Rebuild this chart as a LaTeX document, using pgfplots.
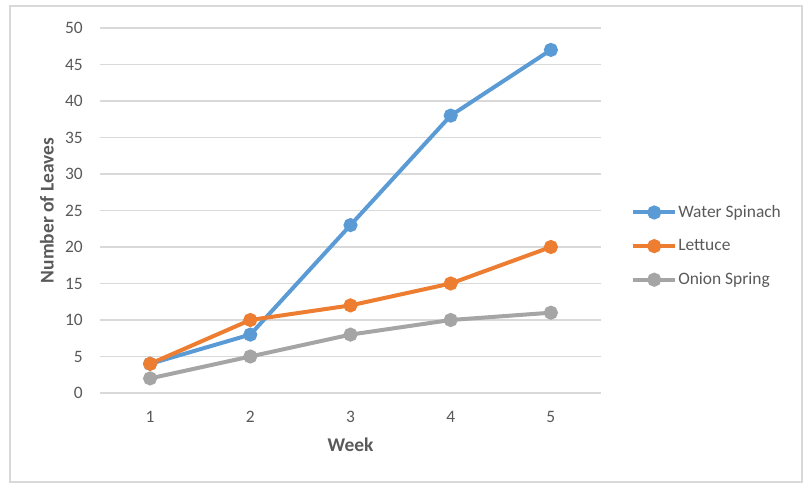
\documentclass[border=0pt]{standalone}
\usepackage{fontspec}
\setmainfont{Carlito}
\usepackage{pgfplots}
\pgfplotsset{compat=1.18}
\definecolor{cblue}{HTML}{5B9BD5}
\definecolor{corange}{HTML}{ED7D31}
\definecolor{cgray}{HTML}{A5A5A5}
\definecolor{ctext}{HTML}{595959}
\definecolor{cgrid}{HTML}{D9D9D9}
\begin{document}
\begin{tikzpicture}
\useasboundingbox (-100bp,-97bp) rectangle (709bp,393bp);
\draw[cgrid, line width=1.2bp] (-90bp,-89bp) rectangle (702bp,387bp);
\begin{axis}[
  scale only axis,
  width=501bp, height=365bp,
  xmin=0.5, xmax=5.5, ymin=0, ymax=50,
  xtick={1,2,3,4,5}, ytick={0,5,...,50},
  axis line style={draw=none},
  major tick length=0pt,
  ymajorgrids, grid style={cgrid, line width=1.2bp},
  ticklabel style={font=\fontsize{17.5}{21}\selectfont, text=ctext, inner sep=0pt},
  /pgf/number format/assume math mode=true,
  yticklabel style={anchor=east, xshift=-17bp},
  xticklabel style={anchor=north, yshift=-18bp},
  xlabel={Week}, ylabel={Number of Leaves},
  every axis x label/.style={at={(axis description cs:0.5,-0.1425)}, anchor=center,
    font=\fontsize{19.5}{23}\selectfont\bfseries, text=ctext},
  every axis y label/.style={at={(axis description cs:-0.106,0.5)}, anchor=center, rotate=90,
    font=\fontsize{19.5}{23}\selectfont\bfseries, text=ctext},
  legend style={at={(rel axis cs:1.06,0.5165)}, anchor=north west, draw=none, fill=none,
    font=\fontsize{17.5}{21}\selectfont, text=ctext, inner sep=0pt,
    row sep=18.5bp, nodes={inner sep=1bp, anchor=west}},
  legend cell align=left,
  legend image code/.code={\draw[mark repeat=2, mark phase=2, #1] plot coordinates {(0bp,0bp) (21bp,0bp) (42bp,0bp)};},
  every axis plot/.append style={line width=4bp, mark=*, mark size=5bp, mark options={solid}},
]
\addplot[color=cblue] coordinates {(1,4) (2,8) (3,23) (4,38) (5,47)};
\addlegendentry{Water Spinach}
\addplot[color=corange] coordinates {(1,4) (2,10) (3,12) (4,15) (5,20)};
\addlegendentry{Lettuce}
\addplot[color=cgray] coordinates {(1,2) (2,5) (3,8) (4,10) (5,11)};
\addlegendentry{Onion Spring}
\end{axis}
\end{tikzpicture}
\end{document}
